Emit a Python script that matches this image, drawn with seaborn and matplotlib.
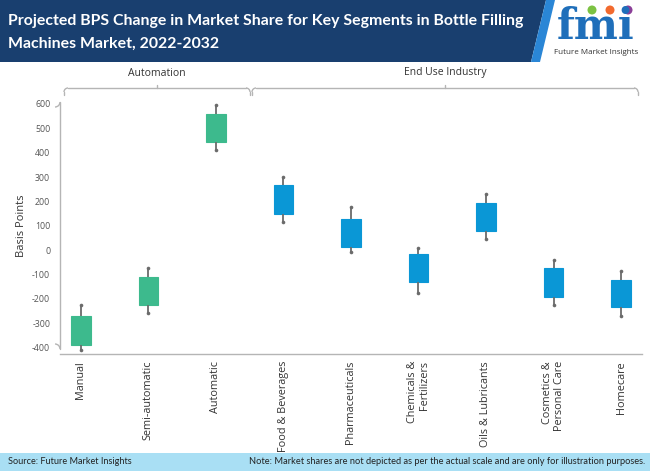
import numpy as np
import pandas as pd
import matplotlib
matplotlib.use("Agg")
import matplotlib.pyplot as plt
import matplotlib.patches as mpatches
import seaborn as sns

# ---------------- data ----------------
categories = ["Manual", "Semi-automatic", "Automatic", "Food & Beverages",
              "Pharmaceuticals", "Chemicals & Fertilizers", "Oils & Lubricants",
              "Cosmetics & Personal Care", "Homecare"]
tick_labels = ["Manual", "Semi-automatic", "Automatic", "Food & Beverages",
               "Pharmaceuticals", "Chemicals &\nFertilizers", "Oils & Lubricants",
               "Cosmetics &\nPersonal Care", "Homecare"]
groups = ["Automation"] * 3 + ["End Use Industry"] * 6
low = [-409, -256, 411, 116, -7, -175, 46, -224, -268]
box_low = [-388, -224, 444, 150, 14, -130, 79, -190, -235]
box_high = [-272, -108, 559, 266, 130, -14, 195, -75, -121]
high = [-224, -74, 596, 299, 176, 8, 231, -40, -87]
y_ticks = [-400, -300, -200, -100, 0, 100, 200, 300, 400, 500, 600]

group_colors = {"Automation": "#3dba8d", "End Use Industry": "#0a97d6"}

rows = []
for c, g, a, b, t, h in zip(categories, groups, low, box_low, box_high, high):
    for v in (a, b, b, t, t, h):
        rows.append({"segment": c, "group": g, "bps": v})
df = pd.DataFrame(rows)
ends = pd.DataFrame({"segment": categories * 2, "bps": low + high})

# ---------------- figure ----------------
sns.set_theme(style="white")
plt.rcParams["font.family"] = ["Open Sans", "DejaVu Sans"]
W, H = 650, 471
fig = plt.figure(figsize=(W / 100, H / 100), dpi=100)

def fx(px):
    return px / W

def fy(py):
    return 1 - py / H

ax_l, ax_r, ax_t, ax_b = 60, 642, 97, 354
ax = fig.add_axes([fx(ax_l), fy(ax_b), fx(ax_r) - fx(ax_l), fy(ax_t) - fy(ax_b)])

palette = [group_colors[g] for g in groups]
sns.boxplot(data=df, x="segment", y="bps", hue="segment", order=categories,
            hue_order=categories, palette=palette, legend=False, width=0.29,
            saturation=1, whis=(0, 100), showcaps=False, linecolor="#6b6b6b",
            linewidth=1.3, medianprops={"visible": False}, ax=ax)
for patch, col in zip(list(ax.patches), palette):
    patch.set_edgecolor(col)
    patch.set_linewidth(0.8)
sns.stripplot(data=ends, x="segment", y="bps", order=categories, jitter=False,
              color="#6b6b6b", size=2.6, ax=ax, zorder=5)

ax.set_xlim(-0.308, 8.31)
y_per_px = 1000 / 243.7
ax.set_ylim(-(ax_b - 250.2) * y_per_px, (250.2 - ax_t) * y_per_px)
ax.set_yticks(y_ticks)
ax.set_yticklabels([str(v) for v in y_ticks], fontsize=6.3, color="#555555")
ax.set_xticks(range(len(categories)))
ax.set_xticklabels(tick_labels, rotation=90, fontsize=7.8, color="#333333",
                   va="top", ha="center", multialignment="right")
ax.tick_params(axis="both", length=0)
ax.tick_params(axis="y", pad=7)
ax.tick_params(axis="x", pad=5)
ax.set_xlabel("")
ax.set_ylabel("Basis Points", fontsize=8, color="#333333", labelpad=4)
for s in ["top", "right", "left"]:
    ax.spines[s].set_visible(False)
ax.spines["bottom"].set_color("#b5b5b5")
ax.spines["bottom"].set_linewidth(1.0)

# ---------------- overlay (pixel coordinates) ----------------
top = fig.add_axes([0, 0, 1, 1], zorder=10)
top.set_xlim(0, W)
top.set_ylim(H, 0)
top.axis("off")
top.patch.set_alpha(0)

line_col = "#b5b5b5"
# y-axis brace
r = 5
top.plot([60, 60], [ax_t + r, ax_b - r], color=line_col, lw=1.0)
top.add_patch(mpatches.Arc((60 - r, ax_t + r), 2 * r, 2 * r, theta1=0, theta2=90,
                           color=line_col, lw=1.0))
top.add_patch(mpatches.Arc((60 - r, ax_b - r), 2 * r, 2 * r, theta1=270, theta2=360,
                           color=line_col, lw=1.0))

# banner
top.add_patch(mpatches.Polygon([(0, 0), (546, 0), (531, 62), (0, 62)],
                               closed=True, color="#193f6f", lw=0))
top.add_patch(mpatches.Polygon([(546, 0), (555, 0), (540, 62), (531, 62)],
                               closed=True, color="#2a86d6", lw=0))
top.text(8, 21, "Projected BPS Change in Market Share for Key Segments in Bottle Filling",
         fontsize=11.4, fontweight="bold", color="white", va="center", ha="left",
         family=["Lato", "DejaVu Sans"])
top.text(8, 44, "Machines Market, 2022-2032",
         fontsize=11.4, fontweight="bold", color="white", va="center", ha="left",
         family=["Lato", "DejaVu Sans"])

# logo
top.text(596, 27, "fmi", fontsize=30, fontweight="bold", color="#1f6fba",
         ha="center", va="center", family=["DejaVu Serif", "DejaVu Sans"])
for cx, col in [(592, "#7cc242"), (610, "#f26a2e"), (628, "#8b3f98")]:
    top.add_patch(mpatches.Circle((cx, 10), 4.5, color=col, lw=0))
top.text(596, 53, "Future Market Insights", fontsize=5.8, color="#333333",
         ha="center", va="center")

# group brackets
def bracket(x0, x1, y, label):
    rr = 4
    top.plot([x0 + rr, x1 - rr], [y, y], color=line_col, lw=1.0)
    top.add_patch(mpatches.Arc((x0 + rr, y + rr), 2 * rr, 2 * rr, theta1=180, theta2=270,
                               color=line_col, lw=1.0))
    top.add_patch(mpatches.Arc((x1 - rr, y + rr), 2 * rr, 2 * rr, theta1=270, theta2=360,
                               color=line_col, lw=1.0))
    top.plot([x0, x0], [y + rr, y + 7], color=line_col, lw=1.0)
    top.plot([x1, x1], [y + rr, y + 7], color=line_col, lw=1.0)
    xc = (x0 + x1) / 2
    top.plot([xc, xc], [y, y - 3], color=line_col, lw=1.0)
    top.text(xc, y - 15, label, fontsize=7.5, color="#333333", ha="center", va="center")

bracket(64, 250, 88, "Automation")
bracket(252, 638, 88, "End Use Industry")

# footer
top.add_patch(mpatches.Rectangle((0, 453), W, 18, color="#a9dff4", lw=0))
top.text(8, 462, "Source: Future Market Insights", fontsize=6.6, color="#222222",
         ha="left", va="center", family=["Lato", "DejaVu Sans"])
top.text(645, 462, "Note: Market shares are not depicted as per the actual scale and are only for illustration purposes.",
         fontsize=6.7, color="#222222", ha="right", va="center",
         family=["Lato", "DejaVu Sans"])

fig.savefig("out.png", dpi=100)
